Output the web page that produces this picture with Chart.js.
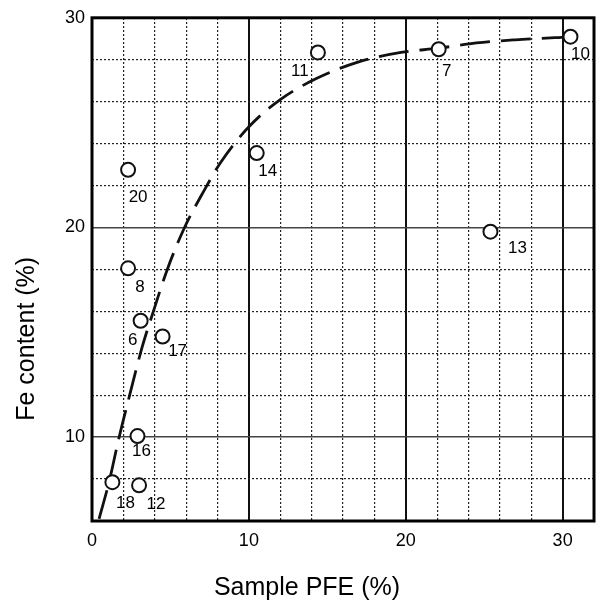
<!DOCTYPE html>
<html>
<head>
<meta charset="utf-8">
<script src="https://cdn.jsdelivr.net/npm/chart.js@4.4.1/dist/chart.umd.min.js"></script>
<style>
  html, body { margin: 0; padding: 0; background: #ffffff; }
  #wrap { width: 603px; height: 605px; }
</style>
</head>
<body>
<div id="wrap"><canvas id="chart" width="603" height="605"></canvas></div>
<script>
// Sample identifiers and measured values
const sampleIds = ['20', '14', '11', '7', '10', '13', '8', '6', '17', '16', '18', '12'];
const samplePFE = [2.3, 10.5, 14.4, 22.1, 30.5, 25.4, 2.3, 3.1, 4.5, 2.9, 1.3, 3.0];
const sampleFe  = [22.75, 23.55, 28.35, 28.5, 29.1, 19.8, 18.05, 15.55, 14.8, 10.05, 7.85, 7.7];

// Trend curve (dashed) traced through the data
const trendPFE = [0.45, 1.1, 1.7, 2.4, 3.2, 4.0, 4.8, 5.9, 7.1, 8.2, 10.0, 12.0, 14.3, 17.0, 19.7, 22.1, 24.5, 27.0, 29.5, 30.4];
const trendFe  = [6.1, 7.9, 9.9, 12.0, 14.3, 16.2, 18.0, 20.0, 21.7, 23.1, 24.8, 26.1, 27.1, 27.9, 28.35, 28.55, 28.8, 28.95, 29.05, 29.1];

// Axis ticks
const xMajorTicks = [0, 10, 20, 30];
const xMinorTicks = [2, 4, 6, 8, 12, 14, 16, 18, 22, 24, 26, 28];
const yMajorTicks = [10, 20, 30];
const yMinorTicks = [8, 12, 14, 16, 18, 22, 24, 26, 28];
const xRange = [0, 32];
const yRange = [6, 30];

// Axis titles
const xTitle = 'Sample PFE (%)';
const yTitle = 'Fe content (%)';

// Label placement relative to each marker (px)
const labelShift = {
  '20': [10, 28], '14': [11, 18], '11': [-18, 19], '7': [8, 22],
  '10': [10, 18], '13': [27, 17], '8': [12, 19], '6': [-8, 20],
  '17': [15, 15], '16': [4, 15], '18': [13, 21], '12': [17, 19]
};

const FONT = '"Liberation Sans", Arial, Helvetica, sans-serif';

const samplePoints = sampleIds.map((id, i) => ({ x: samplePFE[i], y: sampleFe[i], id }));
const trendPoints = trendPFE.map((x, i) => ({ x, y: trendFe[i] }));

const setTicks = list => scale => { scale.ticks = list.map(v => ({ value: v })); };

// Heavy box around the plotting area
const frame = {
  id: 'frame',
  beforeDatasetsDraw(chart) {
    const { ctx, chartArea: a } = chart;
    ctx.save();
    ctx.strokeStyle = '#000';
    ctx.lineWidth = 3;
    ctx.strokeRect(a.left, a.top, a.right - a.left, a.bottom - a.top);
    ctx.restore();
  }
};

// Sample numbers next to each marker
const pointLabels = {
  id: 'pointLabels',
  afterDatasetsDraw(chart) {
    const { ctx } = chart;
    const meta = chart.getDatasetMeta(1);
    ctx.save();
    ctx.fillStyle = '#000';
    ctx.font = '17px ' + FONT;
    ctx.textAlign = 'center';
    ctx.textBaseline = 'middle';
    meta.data.forEach((el, i) => {
      const id = sampleIds[i];
      const [dx, dy] = labelShift[id];
      ctx.fillText(id, el.x + dx, el.y + dy);
    });
    ctx.restore();
  }
};

// Axis titles, set slightly off the plot centre
const axisTitles = {
  id: 'axisTitles',
  afterDraw(chart) {
    const { ctx, chartArea: a } = chart;
    ctx.save();
    ctx.fillStyle = '#000';
    ctx.font = '25px ' + FONT;
    ctx.textAlign = 'center';
    ctx.textBaseline = 'middle';
    ctx.fillText(xTitle, a.left + 215, 588);
    ctx.translate(27, a.top + 321);
    ctx.rotate(-Math.PI / 2);
    ctx.fillText(yTitle, 0, 0);
    ctx.restore();
  }
};

new Chart(document.getElementById('chart'), {
  type: 'scatter',
  data: {
    datasets: [
      {
        type: 'line',
        data: trendPoints,
        borderColor: '#111',
        borderWidth: 2.8,
        borderDash: [30, 11],
        pointRadius: 0,
        fill: false,
        cubicInterpolationMode: 'monotone',
        order: 2
      },
      {
        data: samplePoints,
        pointRadius: 7,
        pointBorderWidth: 2,
        borderColor: '#111',
        backgroundColor: '#fff',
        pointBackgroundColor: '#fff',
        pointBorderColor: '#111',
        order: 1
      }
    ]
  },
  options: {
    responsive: false,
    animation: false,
    layout: { padding: { top: 14, right: 8, bottom: 0, left: 0 } },
    plugins: { legend: { display: false }, tooltip: { enabled: false } },
    scales: {
      x: {
        type: 'linear', position: 'bottom',
        min: xRange[0], max: xRange[1],
        afterBuildTicks: setTicks(xMajorTicks),
        afterFit: s => { s.height = 84; },
        border: { display: false },
        grid: { color: '#111', lineWidth: 2, drawTicks: false },
        ticks: { padding: 9, color: '#000', font: { family: FONT, size: 18 } }
      },
      xMinor: {
        type: 'linear', position: 'top',
        min: xRange[0], max: xRange[1],
        afterBuildTicks: setTicks(xMinorTicks),
        afterFit: s => { s.height = 0; },
        border: { display: false, dash: [2, 2] },
        grid: { color: '#222', lineWidth: 1.2, drawTicks: false },
        ticks: { display: false }
      },
      y: {
        type: 'linear', position: 'left',
        min: yRange[0], max: yRange[1],
        afterBuildTicks: setTicks(yMajorTicks),
        afterFit: s => { s.width = 92; },
        border: { display: false },
        grid: { color: '#444', lineWidth: 1.4, drawTicks: false },
        ticks: { padding: 7, color: '#000', font: { family: FONT, size: 18 } }
      },
      yMinor: {
        type: 'linear', position: 'right',
        min: yRange[0], max: yRange[1],
        afterBuildTicks: setTicks(yMinorTicks),
        afterFit: s => { s.width = 0; },
        border: { display: false, dash: [2, 2] },
        grid: { color: '#222', lineWidth: 1.2, drawTicks: false },
        ticks: { display: false }
      }
    }
  },
  plugins: [frame, pointLabels, axisTitles]
});
</script>
</body>
</html>
